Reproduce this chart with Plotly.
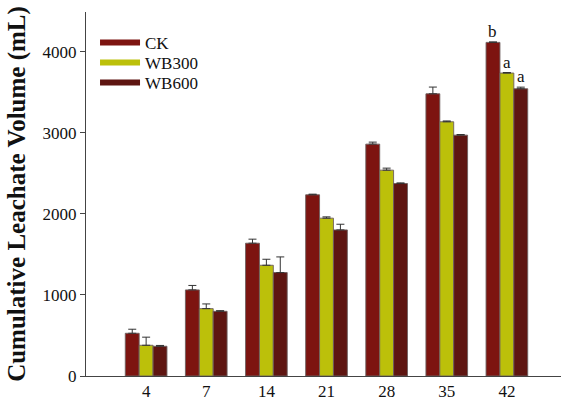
import plotly.graph_objects as go

days = ["4", "7", "14", "21", "28", "35", "42"]
series_names = ["CK", "WB300", "WB600"]
ck = [527, 1062, 1638, 2235, 2860, 3481, 4115]
ck_err = [50, 55, 50, 8, 25, 83, 6]
wb300 = [379, 831, 1366, 1947, 2539, 3136, 3737]
wb300_err = [100, 58, 74, 16, 25, 10, 6]
wb600 = [367, 798, 1276, 1802, 2374, 2971, 3543]
wb600_err = [10, 8, 193, 70, 8, 8, 20]
sig_labels = ["b", "a", "a"]  # at day 42
colors = ["#7D1410", "#BCC00A", "#5E1511"]

values = [ck, wb300, wb600]
errors = [ck_err, wb300_err, wb600_err]
SERIF = "Liberation Serif, Times New Roman, serif"

fig = go.Figure()
for name, vals, errs, col in zip(series_names, values, errors, colors):
    fig.add_trace(go.Bar(
        x=days, y=vals, name=name, showlegend=False,
        marker=dict(color=col, line=dict(color="rgba(110,95,95,0.9)", width=1)),
        error_y=dict(type="data", array=errs, arrayminus=[0] * len(errs),
                     symmetric=False, color="#333333", thickness=1, width=4),
    ))
legend_ids = ["legend", "legend2", "legend3"]
for name, col, lid in zip(series_names, colors, legend_ids):
    fig.add_trace(go.Scatter(
        x=[None], y=[None], mode="lines", name=name, legend=lid,
        line=dict(color=col, width=6),
    ))

bar_px = 13.9
last_idx = len(days) - 1
for i, (lab, vals, errs) in enumerate(zip(sig_labels, values, errors)):
    fig.add_annotation(
        x=last_idx, y=vals[-1] + errs[-1], xref="x", yref="y",
        text=lab, showarrow=False, yanchor="bottom",
        xshift=(i - 1) * bar_px, yshift=-1,
        font=dict(family=SERIF, size=17, color="#111111"),
    )

leg_common = dict(xanchor="left", yanchor="middle",
                  font=dict(family=SERIF, size=17, color="#111111"),
                  bgcolor="rgba(0,0,0,0)", itemwidth=40)
row_px = [43, 63, 83]
legs = {}
for lid, yp in zip(legend_ids, row_px):
    legs[lid] = dict(x=0.019, y=(376 - yp) / 364.0, **leg_common)

fig.update_layout(
    width=561, height=402,
    margin=dict(l=86, r=0, t=12, b=26),
    paper_bgcolor="white", plot_bgcolor="white",
    barmode="group", bargap=0.307, bargroupgap=0,
    font=dict(family=SERIF, size=16, color="#111111"),
    **legs,
)
fig.update_xaxes(
    type="category", range=[-1, 6.9],
    showline=True, linecolor="#444444", linewidth=1,
    ticks="", showgrid=False, zeroline=False,
    tickfont=dict(family=SERIF, size=17, color="#111111"),
)
fig.update_yaxes(
    range=[0, 4490], dtick=1000, tick0=0,
    showline=True, linecolor="#444444", linewidth=1,
    ticks="outside", ticklen=5, tickcolor="#444444",
    showgrid=False, zeroline=False,
    tickfont=dict(family=SERIF, size=17, color="#111111"),
    title=dict(text="<b>Cumulative Leachate Volume (mL)</b>",
               font=dict(family=SERIF, size=25, color="#111111"),
               standoff=9),
)

fig.write_html("out.html")
